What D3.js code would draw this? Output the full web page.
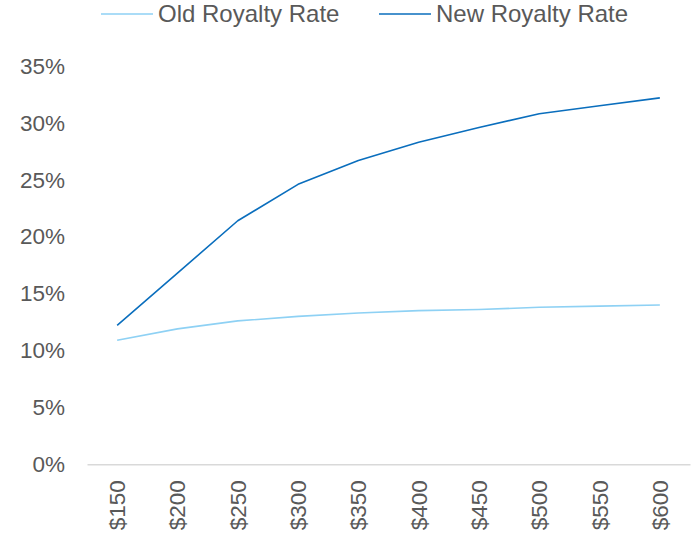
<!DOCTYPE html>
<html>
<head>
<meta charset="utf-8">
<script src="https://cdn.jsdelivr.net/npm/d3@7"></script>
<style>
html,body{margin:0;padding:0;background:#fff;}
svg{display:block;font-family:"Liberation Sans",Arial,sans-serif;}
</style>
</head>
<body>
<svg id="chart" width="693" height="533"></svg>
<script>
const categories = ["$150","$200","$250","$300","$350","$400","$450","$500","$550","$600"];
const oldRate = [10.9, 11.9, 12.6, 13.0, 13.3, 13.5, 13.6, 13.8, 13.9, 14.0];
const newRate = [12.2, 16.8, 21.4, 24.6, 26.7, 28.3, 29.6, 30.8, 31.5, 32.2];
const yTicks = [0, 5, 10, 15, 20, 25, 30, 35];
const seriesNames = ["Old Royalty Rate", "New Royalty Rate"];
const seriesColors = ["#8ED1F4", "#0A6EBD"];

const svg = d3.select("#chart");
const x = d3.scaleBand().domain(categories).range([87, 690]);
const y = d3.scaleLinear().domain([0, 35]).range([464.3, 66]);
const textColor = "#595959";

// y axis labels
const yAxis = d3.axisLeft(y).tickValues(yTicks).tickFormat(d => d + "%").tickSize(0).tickPadding(0);
const gy = svg.append("g").attr("transform", "translate(65,0)").call(yAxis);
gy.select(".domain").remove();
gy.selectAll("text").attr("fill", textColor).style("font-size", "22.5px").style("font-family", "Liberation Sans, Arial, sans-serif");

// x axis
const xAxis = d3.axisBottom(x).tickSize(0).tickPadding(0);
const gx = svg.append("g").attr("transform", "translate(0,464.3)").call(xAxis);
gx.select(".domain").attr("stroke", "#d9d9d9").attr("stroke-width", 1.5);
gx.selectAll("text")
  .attr("fill", textColor)
  .style("font-size", "22.5px")
  .style("font-family", "Liberation Sans, Arial, sans-serif")
  .attr("text-anchor", "end")
  .attr("dy", null)
  .attr("y", 0)
  .attr("transform", "translate(8,16) rotate(-90)");

// lines
const line = d3.line().x((d, i) => x(categories[i]) + x.bandwidth() / 2).y(d => y(d));
[oldRate, newRate].forEach((s, k) => {
  svg.append("path").datum(s).attr("d", line).attr("fill", "none")
    .attr("stroke", seriesColors[k]).attr("stroke-width", 1.6).attr("stroke-linejoin", "round");
});

// legend
const legendX = [101, 379];
seriesNames.forEach((n, k) => {
  const g = svg.append("g").attr("transform", `translate(${legendX[k]},14)`);
  g.append("line").attr("x1", 0).attr("x2", 52).attr("y1", 0).attr("y2", 0)
    .attr("stroke", seriesColors[k]).attr("stroke-width", 1.6);
  g.append("text").attr("x", 57).attr("y", 0).attr("dy", "0.35em")
    .attr("fill", textColor).style("font-size", "24px").text(n);
});
</script>
</body>
</html>
